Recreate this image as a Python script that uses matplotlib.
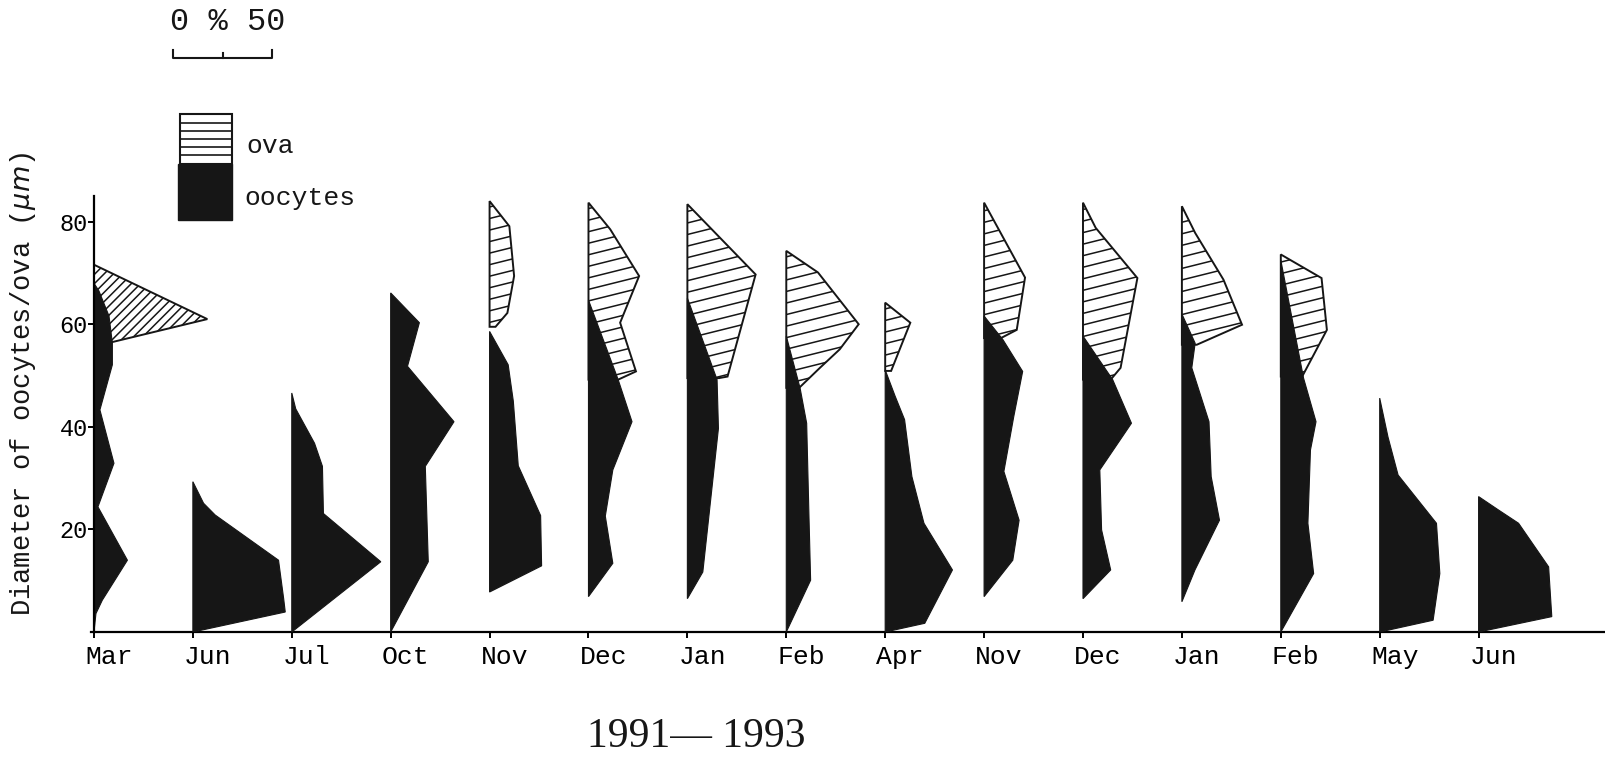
import numpy as np
import matplotlib.pyplot as plt
from matplotlib.patches import Polygon, Rectangle
from matplotlib.collections import LineCollection
from matplotlib.lines import Line2D
from matplotlib.transforms import ScaledTranslation, blended_transform_factory

# sampling months, 1991 - 1993
months = ['Mar', 'Jun', 'Jul', 'Oct', 'Nov', 'Dec', 'Jan', 'Feb',
          'Apr', 'Nov', 'Dec', 'Jan', 'Feb', 'May', 'Jun']

# oocytes: diameter (um) and frequency (%) along the right side of each kite
oocyte_diam = [
    [0, 3.6, 6.2, 14.0, 24.4, 32.9, 43.3, 52.1, 56.3, 61.6, 66.5, 68.0],
    [0, 3.9, 6.5, 14.0, 22.8, 25.1, 29.3],
    [0, 13.7, 23.1, 32.3, 36.8, 43.5, 46.6],
    [0, 13.7, 32.3, 41.0, 51.8, 60.3, 66.1],
    [7.8, 12.9, 22.7, 32.4, 45.0, 52.1, 58.6],
    [6.9, 13.4, 22.6, 31.6, 41.0, 49.2, 64.7],
    [6.5, 11.7, 39.7, 49.2, 65.1],
    [0, 10.1, 22.0, 40.7, 47.5, 57.7],
    [0, 1.7, 12.1, 21.2, 30.3, 41.4, 46.0, 51.1],
    [6.9, 14.0, 21.8, 31.3, 42.0, 50.8, 57.0, 61.6],
    [6.5, 12.1, 19.9, 31.6, 40.7, 49.2, 57.7],
    [5.9, 12.1, 21.8, 30.3, 41.0, 51.5, 56.3, 62.0],
    [0, 11.4, 21.2, 35.5, 41.0, 49.5, 72.5],
    [0, 2.3, 11.4, 21.2, 30.6, 38.0, 45.6],
    [0, 3.0, 12.7, 21.2, 23.8, 26.4],
]
oocyte_freq = [
    [0, 1, 4.2, 16.9, 2, 10.1, 3, 9.3, 9.3, 7.6, 2.5, 0],
    [0, 46.7, 45.9, 43.3, 11.3, 5.4, 0],
    [0, 45, 16, 15.5, 11.5, 2, 0],
    [0, 19, 17.5, 32, 8.5, 14.5, 0],
    [0, 26.3, 25.8, 14.5, 12, 9.4, 0],
    [0, 12.3, 8.5, 12.3, 22, 15, 0],
    [0, 7.8, 15.7, 15, 0],
    [0, 12.3, 11.5, 10.3, 7, 0],
    [0, 20, 34, 19.6, 13.5, 9.8, 5, 0],
    [0, 14.5, 17.7, 10, 15, 19.5, 9.5, 0],
    [0, 14, 9.4, 8.5, 24.5, 15, 0],
    [0, 6.6, 19, 14.8, 13.7, 5, 6.7, 0],
    [0, 16.6, 13.7, 15, 17.8, 11.5, 0],
    [0, 27, 30.4, 28.7, 9.3, 4.2, 0],
    [0, 37, 35.4, 20.2, 10, 0],
]

# ova: diameter (um) and frequency (%), None where no ova were found
ova_diam = [
    [56.5, 61.0, 71.6],
    None, None, None,
    [59.5, 62.2, 69.4, 79.1, 84.0],
    [49.2, 50.8, 60.3, 69.4, 78.5, 83.7],
    [49.5, 49.8, 69.7, 83.4],
    [47.6, 51.5, 55.1, 60.0, 70.1, 74.3],
    [50.9, 60.3, 64.2],
    [57.3, 58.9, 69.1, 83.7],
    [49.2, 51.5, 69.0, 78.8, 83.7],
    [56.0, 59.9, 68.7, 77.8, 83.0],
    [49.8, 58.9, 69.0, 73.6],
    None, None,
]
ova_freq = [
    [9, 57.3, 0],
    None, None, None,
    [3, 9, 12.4, 10, 0],
    [15, 24, 16, 25.6, 11, 0],
    [16, 20.3, 34.5, 0],
    [6.5, 17, 27, 36.6, 16, 0],
    [3, 12.7, 0],
    [8.5, 16.5, 20.7, 0],
    [14, 19, 27.5, 6.4, 0],
    [7.5, 30.4, 21, 6.7, 0],
    [10.8, 23.3, 20.6, 0],
    None, None,
]

STEP = 50          # one month slot is as wide as 50 % on the scale bar
INK = '#161616'
W, H = 1605, 757

plt.rcParams['font.family'] = ['Liberation Mono', 'DejaVu Sans Mono']

fig = plt.figure(figsize=(W / 100, H / 100), dpi=100)
ax = fig.add_axes([0.0567, 0.1651, 0.9433, 0.5760])
XLIM = (-1.5, 763.9)
YLIM = (0, 85)

# pixel size of one unit, used to set the hatch slope in screen space
px_x = 0.9433 * W / (XLIM[1] - XLIM[0])
px_y = 0.5760 * H / (YLIM[1] - YLIM[0])


def kite_outline(base, diam, freq):
    pts = [(base, diam[0])]
    pts += [(base + f, d) for d, f in zip(diam, freq)]
    pts.append((base, diam[-1]))
    return pts


def add_hatch(patch, base, diam, freq, angle, gap):
    k = np.tan(np.radians(angle)) * px_x / px_y
    wmax = max(freq) + 2
    segs = [[(base, c), (base + wmax, c + k * wmax)]
            for c in np.arange(min(diam) - k * wmax - gap, max(diam) + gap, gap)]
    lc = LineCollection(segs, colors=INK, linewidths=1.1, zorder=2.5)
    lc.set_clip_path(patch)
    ax.add_collection(lc, autolim=False)


for i in range(len(months)):
    base = i * STEP
    if ova_diam[i] is not None:
        p = Polygon(kite_outline(base, ova_diam[i], ova_freq[i]), closed=True,
                    facecolor='white', edgecolor=INK, linewidth=1.4, zorder=2)
        ax.add_patch(p)
        if i == 0:
            add_hatch(p, base, ova_diam[i], ova_freq[i], 45, 1.8)
        else:
            add_hatch(p, base, ova_diam[i], ova_freq[i], 14, 2.25)
    q = Polygon(kite_outline(base, oocyte_diam[i], oocyte_freq[i]), closed=True,
                facecolor=INK, edgecolor=INK, linewidth=0.8, zorder=3)
    ax.add_patch(q)

ax.set_xlim(*XLIM)
ax.set_ylim(*YLIM)

# axes
for s in ['top', 'right']:
    ax.spines[s].set_visible(False)
ax.spines['left'].set_position(('data', 0))
ax.spines['left'].set_linewidth(1.6)
ax.spines['bottom'].set_linewidth(1.6)
ax.spines['left'].set_zorder(4)

ax.set_yticks([20, 40, 60, 80])
ax.set_xticks(np.arange(len(months)) * STEP)
ax.set_xticklabels(months)
ax.tick_params(axis='x', direction='out', length=4.5, width=1.4, pad=5, labelsize=19)
ax.tick_params(axis='y', direction='out', length=4, width=1.4, pad=0.5, labelsize=17)
shift = ScaledTranslation(15 / 100, 0, fig.dpi_scale_trans)
for lab in ax.get_xticklabels():
    lab.set_transform(lab.get_transform() + shift)

fig.text(23 / W, 1 - 384 / H, r'Diameter of oocytes/ova ($\mu m$)', rotation=90,
         ha='center', va='center', fontsize=19.5, color=INK)
fig.text(696 / W, 1 - 737 / H, '1991\u2014 1993', ha='center', va='center',
         fontsize=30, family='Liberation Serif', color=INK)

# scale bar 0 % 50, drawn in the data units of the x axis
bt = blended_transform_factory(ax.transData, fig.transFigure)
x0 = 40
yb, yt, ym = 1 - 57.5 / H, 1 - 49.5 / H, 1 - 52.5 / H
for xs, ys in [([x0, x0, x0 + STEP, x0 + STEP], [yt, yb, yb, yt]),
               ([x0 + STEP / 2, x0 + STEP / 2], [yb, ym])]:
    fig.add_artist(Line2D(xs, ys, transform=bt, color=INK, linewidth=1.5))
fig.text(x0 - 1.5, 1 - 30 / H, '0 % 50', transform=bt, ha='left', va='baseline',
         fontsize=23, color=INK)

# legend
fig.add_artist(Rectangle((180 / W, 1 - 164 / H), 52 / W, 50 / H, transform=fig.transFigure,
                         facecolor='white', edgecolor=INK, linewidth=1.5))
for py in [123, 131, 139, 147, 155]:
    fig.add_artist(Line2D([180 / W, 232 / W], [1 - py / H, 1 - py / H],
                          transform=fig.transFigure, color=INK, linewidth=1.2))
fig.add_artist(Rectangle((178 / W, 1 - 220 / H), 54 / W, 56 / H, transform=fig.transFigure,
                         facecolor=INK, edgecolor=INK, linewidth=1))
fig.text(246 / W, 1 - 153 / H, 'ova', ha='left', va='baseline', fontsize=19, color=INK)
fig.text(244 / W, 1 - 205 / H, 'oocytes', ha='left', va='baseline', fontsize=19, color=INK)

fig.savefig('out.png', dpi=100, facecolor='white')
